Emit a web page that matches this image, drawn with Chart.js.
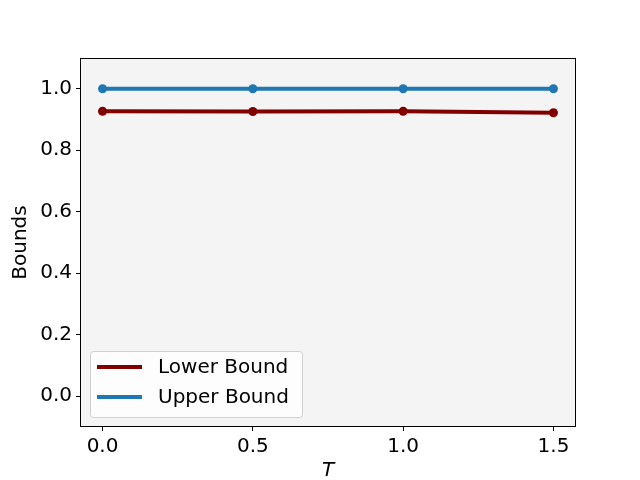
<!DOCTYPE html>
<html>
<head>
<meta charset="utf-8">
<script src="https://cdn.jsdelivr.net/npm/chart.js@4"></script>
<style>
  html, body { margin: 0; padding: 0; background: #fff; }
  #wrap { width: 640px; height: 480px; }
</style>
</head>
<body>
<div id="wrap"><canvas id="myChart" width="640" height="480"></canvas></div>
<script>
// data
var tValues = [0.0, 0.5, 1.0, 1.5];
var lowerBound = [0.927, 0.926, 0.927, 0.922];
var upperBound = [1.0, 1.0, 1.0, 1.0];
var xTicks = [0.0, 0.5, 1.0, 1.5];
var yTicks = [0.0, 0.2, 0.4, 0.6, 0.8, 1.0];

var FONT = "'DejaVu Sans', sans-serif";

function toPoints(xs, ys) {
  return xs.map(function (x, i) { return { x: x, y: ys[i] }; });
}

// plot background + frame
var bgPlugin = {
  id: 'bg',
  beforeDraw: function (chart) {
    var a = chart.chartArea, c = chart.ctx;
    c.save();
    c.fillStyle = '#f4f4f4';
    c.fillRect(a.left, a.top, a.right - a.left, a.bottom - a.top);
    c.restore();
  },
  afterDatasetsDraw: function (chart) {
    var a = chart.chartArea, c = chart.ctx;
    c.save();
    c.strokeStyle = '#000';
    c.lineWidth = 1;
    c.strokeRect(a.left + 0.5, a.top + 0.5, a.right - a.left - 1, a.bottom - a.top - 1);
    c.restore();
  }
};

// legend inside the plot, lower left
var legendPlugin = {
  id: 'inLegend',
  afterDraw: function (chart) {
    var a = chart.chartArea, c = chart.ctx;
    var x = a.left + 10, y = a.bottom - 76, w = 212, h = 66;
    c.save();
    c.fillStyle = 'rgba(255,255,255,0.8)';
    c.strokeStyle = '#d0d0d0';
    c.lineWidth = 1;
    c.beginPath();
    c.roundRect(x + 0.5, y + 0.5, w, h, 3);
    c.fill();
    c.stroke();
    c.font = '20px ' + FONT;
    c.textBaseline = 'middle';
    chart.data.datasets.forEach(function (ds, i) {
      var ly = y + 16 + i * 30;
      c.strokeStyle = ds.borderColor;
      c.lineWidth = 4;
      c.beginPath();
      c.moveTo(x + 7, ly);
      c.lineTo(x + 52, ly);
      c.stroke();
      c.fillStyle = '#000';
      c.fillText(ds.label, x + 68, ly + 1);
    });
    c.restore();
  }
};

var ctx = document.getElementById('myChart');
var myChart = new Chart(ctx, {
  type: 'line',
  data: {
    datasets: [{
      label: 'Lower Bound',
      data: toPoints(tValues, lowerBound),
      borderColor: '#800000',
      backgroundColor: '#800000',
      borderWidth: 4,
      pointRadius: 4.5,
      pointBorderWidth: 0,
      pointHoverRadius: 4.5
    }, {
      label: 'Upper Bound',
      data: toPoints(tValues, upperBound),
      borderColor: '#1f77b4',
      backgroundColor: '#1f77b4',
      borderWidth: 4,
      pointRadius: 4.5,
      pointBorderWidth: 0,
      pointHoverRadius: 4.5
    }]
  },
  options: {
    responsive: false,
    animation: false,
    devicePixelRatio: 1,
    layout: { padding: { top: 58, right: 64, left: 0, bottom: 0 } },
    plugins: {
      legend: { display: false },
      tooltip: { enabled: false }
    },
    scales: {
      x: {
        type: 'linear',
        min: -0.075,
        max: 1.575,
        afterBuildTicks: function (s) { s.ticks = xTicks.map(function (v) { return { value: v }; }); },
        afterFit: function (s) { s.height = 53; },
        grid: { drawOnChartArea: false, tickLength: 4, color: '#000', tickColor: '#000' },
        border: { display: false },
        ticks: {
          color: '#000',
          padding: 4,
          maxRotation: 0,
          font: { family: FONT, size: 20 },
          callback: function (v) { return v.toFixed(1); }
        },
        title: {
          display: true,
          text: 'T',
          color: '#000',
          padding: { top: 0, bottom: 0 },
          font: { family: FONT, size: 20, style: 'italic', lineHeight: 0.9 }
        }
      },
      y: {
        type: 'linear',
        min: -0.1,
        max: 1.1,
        afterBuildTicks: function (s) { s.ticks = yTicks.map(function (v) { return { value: v }; }); },
        afterFit: function (s) { s.width = 80; },
        grid: { drawOnChartArea: false, tickLength: 4, color: '#000', tickColor: '#000' },
        border: { display: false },
        ticks: {
          color: '#000',
          padding: 4,
          font: { family: FONT, size: 20 },
          callback: function (v) { return v.toFixed(1); }
        },
        title: {
          display: true,
          text: 'Bounds',
          color: '#000',
          padding: { top: 9, bottom: 0 },
          font: { family: FONT, size: 20 }
        }
      }
    }
  },
  plugins: [bgPlugin, legendPlugin]
});
</script>
</body>
</html>
